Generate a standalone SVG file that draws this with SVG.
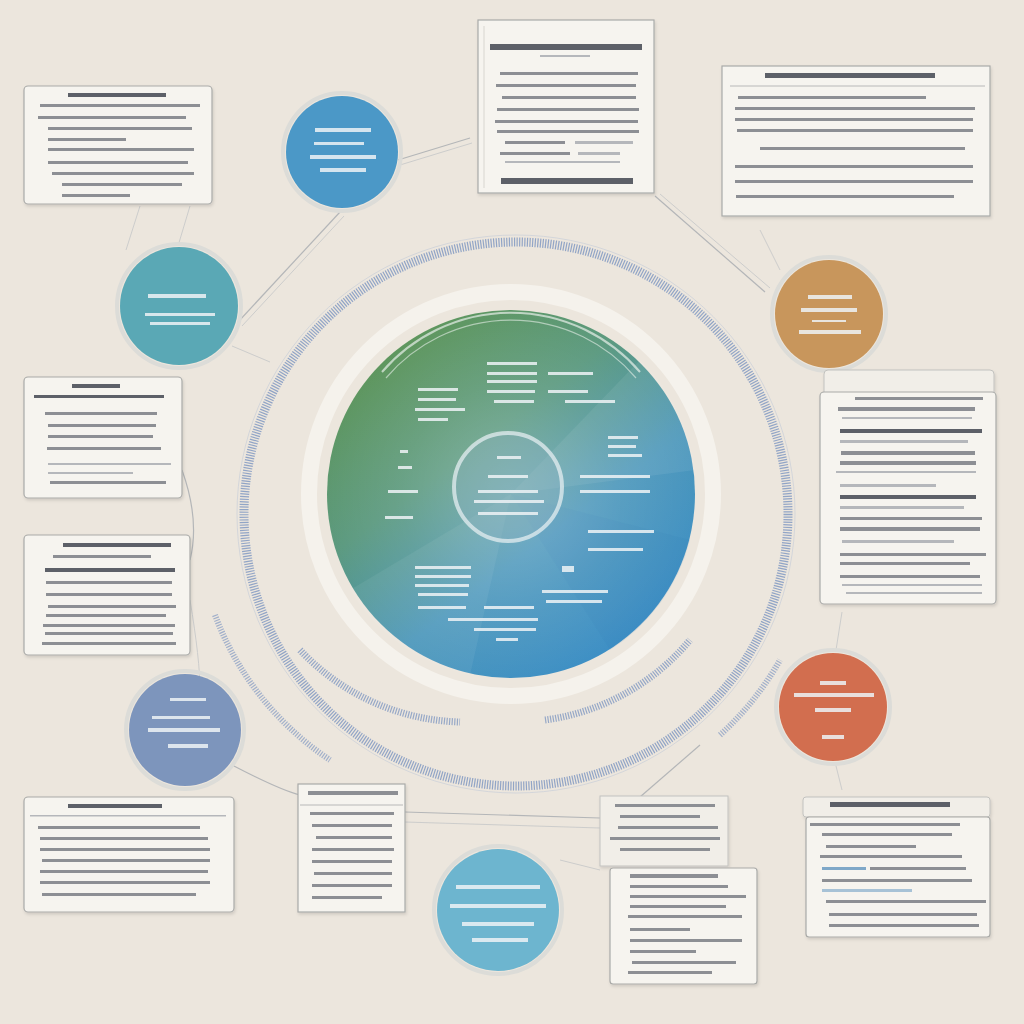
<svg xmlns="http://www.w3.org/2000/svg" width="1024" height="1024" viewBox="0 0 1024 1024">
<defs>
<style>
.card{fill:#f6f4ef;stroke:#a9aaa8;stroke-width:1.2}
.cardb{fill:#f1eee8;stroke:#c2c2bf;stroke-width:1}
.b{fill:#8d8f94}
.bd{fill:#5d6068}
.bl{fill:#b5b7bb}
.w{fill:#eef3f6;opacity:.85}
.conn{fill:none;stroke:#b4b6b8;stroke-width:1.2}
.conn2{fill:none;stroke:#c8c9ca;stroke-width:0.9}
.node-ring{fill:none;stroke:#dcdcd8;stroke-width:4}
.hatch{fill:none;stroke:#8199c2;stroke-dasharray:1.2 1.4}
</style>
<linearGradient id="disk" x1="0.2" y1="0.05" x2="0.85" y2="0.9">
<stop offset="0" stop-color="#5f965a"/>
<stop offset="0.35" stop-color="#5c9a80"/>
<stop offset="0.65" stop-color="#4c97bb"/>
<stop offset="1" stop-color="#3d8fc6"/>
</linearGradient>
<radialGradient id="glow" cx="0.5" cy="0.5" r="0.5">
<stop offset="0" stop-color="#ffffff" stop-opacity="0.25"/>
<stop offset="0.6" stop-color="#ffffff" stop-opacity="0.08"/>
<stop offset="1" stop-color="#ffffff" stop-opacity="0"/>
</radialGradient>
<filter id="sh" x="-10%" y="-10%" width="120%" height="120%">
<feDropShadow dx="1" dy="2" stdDeviation="1.5" flood-color="#000" flood-opacity="0.12"/>
</filter>
</defs>
<rect width="1024" height="1024" fill="#ece6dd"/>

<!-- rings -->
<g id="rings">
<circle cx="511" cy="494" r="202" fill="none" stroke="#f5f2ec" stroke-width="16"/>
<circle cx="516" cy="514" r="272" class="hatch" stroke-width="9" opacity="0.85"/>
<circle cx="516" cy="514" r="279" fill="none" stroke="#c9cfd9" stroke-width="1" opacity="0.7"/>
<path class="hatch" stroke-width="7" opacity="0.8" d="M 300 650 A 228 228 0 0 0 460 722"/>
<path class="hatch" stroke-width="7" opacity="0.8" d="M 545 720 A 228 228 0 0 0 690 640"/>
<path class="hatch" stroke-width="6" opacity="0.7" d="M 215 615 A 300 300 0 0 0 330 760"/>
<path class="hatch" stroke-width="6" opacity="0.7" d="M 720 735 A 300 300 0 0 0 780 660"/>
</g>

<!-- connectors -->
<g id="connectors">
<path class="conn" d="M 398 160 L 470 138"/>
<path class="conn2" d="M 400 165 L 472 143"/>
<path class="conn" d="M 238 322 L 340 212"/>
<path class="conn2" d="M 242 326 L 344 216"/>
<path class="conn" d="M 655 196 L 765 292"/>
<path class="conn2" d="M 660 194 L 770 288"/>
<path class="conn2" d="M 190 206 L 178 246"/>
<path class="conn2" d="M 140 206 L 126 250"/>
<path class="conn2" d="M 232 346 L 270 362"/>
<path class="conn" d="M 182 470 Q 200 520 190 560"/>
<path class="conn2" d="M 190 600 Q 200 660 200 690"/>
<path class="conn" d="M 232 765 Q 280 790 300 795"/>
<path class="conn" d="M 405 812 L 600 818"/>
<path class="conn2" d="M 405 822 L 600 828"/>
<path class="conn" d="M 640 797 L 700 745"/>
<path class="conn2" d="M 835 762 L 842 790"/>
<path class="conn2" d="M 842 612 L 836 650"/>
<path class="conn2" d="M 862 370 L 858 392"/>
<path class="conn2" d="M 560 860 L 600 870"/>
<path class="conn2" d="M 760 230 L 780 270"/>
</g>

<!-- central disk -->
<g id="center">
<circle cx="511" cy="494" r="184" fill="url(#disk)"/>
<path d="M 511 494 L 640 360 A 184 184 0 0 1 695 470 Z" fill="#ffffff" opacity="0.07"/>
<path d="M 511 494 L 470 675 A 184 184 0 0 1 350 590 Z" fill="#ffffff" opacity="0.06"/>
<path d="M 511 494 L 690 540 A 184 184 0 0 1 610 650 Z" fill="#2f7fb8" opacity="0.12"/>
<circle cx="511" cy="494" r="184" fill="url(#glow)"/>
<circle cx="508" cy="487" r="54" fill="#8fb4c2" fill-opacity="0.35" stroke="#e4eef0" stroke-width="4" stroke-opacity="0.75"/>
<path d="M 382 372 A 170 170 0 0 1 640 372" fill="none" stroke="#e8f0ea" stroke-width="2" opacity="0.7"/>
<path d="M 386 378 A 164 164 0 0 1 636 378" fill="none" stroke="#e8f0ea" stroke-width="1.2" opacity="0.6"/>
<g class="w">
<rect x="497" y="456" width="24" height="3"/>
<rect x="488" y="475" width="40" height="3"/>
<rect x="478" y="490" width="60" height="3"/>
<rect x="474" y="500" width="70" height="3"/>
<rect x="478" y="512" width="60" height="3"/>
<rect x="487" y="362" width="50" height="3"/>
<rect x="487" y="372" width="50" height="3"/>
<rect x="487" y="380" width="50" height="3"/>
<rect x="487" y="390" width="48" height="3"/>
<rect x="494" y="400" width="40" height="3"/>
<rect x="418" y="388" width="40" height="3"/>
<rect x="418" y="398" width="38" height="3"/>
<rect x="415" y="408" width="50" height="3"/>
<rect x="418" y="418" width="30" height="3"/>
<rect x="548" y="372" width="45" height="3"/>
<rect x="548" y="390" width="40" height="3"/>
<rect x="565" y="400" width="50" height="3"/>
<rect x="608" y="436" width="30" height="3"/>
<rect x="608" y="445" width="28" height="3"/>
<rect x="608" y="454" width="34" height="3"/>
<rect x="580" y="475" width="70" height="3"/>
<rect x="580" y="490" width="70" height="3"/>
<rect x="588" y="530" width="66" height="3"/>
<rect x="588" y="548" width="55" height="3"/>
<rect x="400" y="450" width="8" height="3"/>
<rect x="398" y="466" width="14" height="3"/>
<rect x="388" y="490" width="30" height="3"/>
<rect x="385" y="516" width="28" height="3"/>
<rect x="415" y="566" width="56" height="3"/>
<rect x="415" y="575" width="56" height="3"/>
<rect x="415" y="584" width="54" height="3"/>
<rect x="418" y="593" width="50" height="3"/>
<rect x="418" y="606" width="48" height="3"/>
<rect x="484" y="606" width="50" height="3"/>
<rect x="448" y="618" width="90" height="3"/>
<rect x="474" y="628" width="62" height="3"/>
<rect x="496" y="638" width="22" height="3"/>
<rect x="562" y="566" width="12" height="6"/>
<rect x="542" y="590" width="66" height="3"/>
<rect x="546" y="600" width="56" height="3"/>
</g>
</g>

<!-- circle nodes -->
<g id="node-blue-top">
<circle cx="342" cy="152" r="59" class="node-ring"/>
<circle cx="342" cy="152" r="56" fill="#4b98c7"/>
<g class="w"><rect x="315" y="128" width="56" height="4"/><rect x="314" y="142" width="50" height="3"/><rect x="310" y="155" width="66" height="4"/><rect x="320" y="168" width="46" height="4"/></g>
</g>
<g id="node-teal">
<circle cx="179" cy="306" r="62" class="node-ring"/>
<circle cx="179" cy="306" r="59" fill="#5aa8b5"/>
<g class="w"><rect x="148" y="294" width="58" height="4"/><rect x="145" y="313" width="70" height="3"/><rect x="150" y="322" width="60" height="3"/></g>
</g>
<g id="node-orange">
<circle cx="829" cy="314" r="57" class="node-ring"/>
<circle cx="829" cy="314" r="54" fill="#c8965c"/>
<g class="w"><rect x="808" y="295" width="44" height="4"/><rect x="801" y="308" width="56" height="4"/><rect x="812" y="320" width="34" height="2"/><rect x="799" y="330" width="62" height="4"/></g>
</g>
<g id="node-purple">
<circle cx="185" cy="730" r="59" class="node-ring"/>
<circle cx="185" cy="730" r="56" fill="#7d95bc"/>
<g class="w"><rect x="170" y="698" width="36" height="3"/><rect x="152" y="716" width="58" height="3"/><rect x="148" y="728" width="72" height="4"/><rect x="168" y="744" width="40" height="4"/></g>
</g>
<g id="node-red">
<circle cx="833" cy="707" r="57" class="node-ring"/>
<circle cx="833" cy="707" r="54" fill="#d26e4f"/>
<g class="w"><rect x="820" y="681" width="26" height="4"/><rect x="794" y="693" width="80" height="4"/><rect x="815" y="708" width="36" height="4"/><rect x="822" y="735" width="22" height="4"/></g>
</g>
<g id="node-lightblue">
<circle cx="498" cy="910" r="64" class="node-ring"/>
<circle cx="498" cy="910" r="61" fill="#6db5cf"/>
<g class="w"><rect x="456" y="885" width="84" height="4"/><rect x="450" y="904" width="96" height="4"/><rect x="462" y="922" width="72" height="4"/><rect x="472" y="938" width="56" height="4"/></g>
</g>

<!-- card nodes -->
<g id="card-top-center" filter="url(#sh)">
<rect x="478" y="20" width="176" height="173" class="card"/>
<line x1="484" y1="26" x2="484" y2="188" stroke="#d8d6d0"/>
<rect x="490" y="44" width="152" height="6" class="bd"/>
<rect x="540" y="55" width="50" height="2" class="bl"/>
<rect x="500" y="72" width="138" height="3" class="b"/>
<rect x="496" y="84" width="140" height="3" class="b"/>
<rect x="502" y="96" width="134" height="3" class="b"/>
<rect x="497" y="108" width="142" height="3" class="b"/>
<rect x="495" y="120" width="143" height="3" class="b"/>
<rect x="497" y="130" width="142" height="3" class="b"/>
<rect x="505" y="141" width="60" height="3" class="b"/><rect x="575" y="141" width="58" height="3" class="bl"/>
<rect x="500" y="152" width="70" height="3" class="b"/><rect x="578" y="152" width="42" height="3" class="bl"/>
<rect x="505" y="161" width="115" height="2" class="bl"/>
<rect x="501" y="178" width="132" height="6" class="bd"/>
</g>
<g id="card-top-right" filter="url(#sh)">
<rect x="722" y="66" width="268" height="150" class="card"/>
<rect x="765" y="73" width="170" height="5" class="bd"/>
<line x1="730" y1="86" x2="985" y2="86" stroke="#b8b8b8"/>
<rect x="738" y="96" width="188" height="3" class="b"/>
<rect x="735" y="107" width="240" height="3" class="b"/>
<rect x="735" y="118" width="238" height="3" class="b"/>
<rect x="737" y="129" width="236" height="3" class="b"/>
<rect x="760" y="147" width="205" height="3" class="b"/>
<rect x="735" y="165" width="238" height="3" class="b"/>
<rect x="735" y="180" width="238" height="3" class="b"/>
<rect x="736" y="195" width="218" height="3" class="b"/>
</g>
<g id="card-top-left" filter="url(#sh)">
<rect x="24" y="86" width="188" height="118" rx="4" class="card"/>
<rect x="68" y="93" width="98" height="4" class="bd"/>
<rect x="40" y="104" width="160" height="3" class="b"/>
<rect x="38" y="116" width="148" height="3" class="b"/>
<rect x="48" y="127" width="144" height="3" class="b"/>
<rect x="48" y="138" width="78" height="3" class="b"/>
<rect x="48" y="148" width="146" height="3" class="b"/>
<rect x="48" y="161" width="140" height="3" class="b"/>
<rect x="52" y="172" width="142" height="3" class="b"/>
<rect x="62" y="183" width="120" height="3" class="b"/>
<rect x="62" y="194" width="68" height="3" class="b"/>
</g>
<g id="card-left-mid" filter="url(#sh)">
<rect x="24" y="377" width="158" height="121" rx="4" class="card"/>
<rect x="72" y="384" width="48" height="4" class="bd"/>
<rect x="34" y="395" width="130" height="3" class="bd"/>
<rect x="45" y="412" width="112" height="3" class="b"/>
<rect x="48" y="424" width="108" height="3" class="b"/>
<rect x="48" y="435" width="105" height="3" class="b"/>
<rect x="47" y="447" width="114" height="3" class="b"/>
<rect x="48" y="463" width="123" height="2" class="bl"/>
<rect x="48" y="472" width="85" height="2" class="bl"/>
<rect x="50" y="481" width="116" height="3" class="b"/>
</g>
<g id="card-left-lower" filter="url(#sh)">
<rect x="24" y="535" width="166" height="120" rx="4" class="card"/>
<rect x="63" y="543" width="108" height="4" class="bd"/>
<rect x="53" y="555" width="98" height="3" class="b"/>
<rect x="45" y="568" width="130" height="4" class="bd"/>
<rect x="46" y="581" width="126" height="3" class="b"/>
<rect x="46" y="593" width="126" height="3" class="b"/>
<rect x="48" y="605" width="128" height="3" class="b"/>
<rect x="46" y="614" width="120" height="3" class="b"/>
<rect x="43" y="624" width="132" height="3" class="b"/>
<rect x="45" y="632" width="128" height="3" class="b"/>
<rect x="42" y="642" width="134" height="3" class="b"/>
</g>
<g id="card-right-mid" filter="url(#sh)">
<rect x="824" y="370" width="170" height="230" rx="4" class="cardb"/>
<rect x="820" y="392" width="176" height="212" rx="4" class="card"/>
<rect x="855" y="397" width="128" height="3" class="b"/>
<rect x="838" y="407" width="137" height="4" class="b"/>
<rect x="842" y="417" width="130" height="2" class="bl"/>
<rect x="840" y="429" width="142" height="4" class="bd"/>
<rect x="840" y="440" width="128" height="3" class="bl"/>
<rect x="841" y="451" width="134" height="4" class="b"/>
<rect x="840" y="461" width="136" height="4" class="b"/>
<rect x="836" y="471" width="140" height="2" class="bl"/>
<rect x="840" y="484" width="96" height="3" class="bl"/>
<rect x="840" y="495" width="136" height="4" class="bd"/>
<rect x="840" y="506" width="124" height="3" class="bl"/>
<rect x="840" y="517" width="142" height="3" class="b"/>
<rect x="840" y="527" width="140" height="4" class="b"/>
<rect x="842" y="540" width="112" height="3" class="bl"/>
<rect x="840" y="553" width="146" height="3" class="b"/>
<rect x="840" y="562" width="130" height="3" class="b"/>
<rect x="840" y="575" width="140" height="3" class="b"/>
<rect x="842" y="584" width="140" height="2" class="bl"/>
<rect x="846" y="592" width="136" height="2" class="bl"/>
</g>
<g id="card-bottom-left" filter="url(#sh)">
<rect x="24" y="797" width="210" height="115" rx="4" class="card"/>
<rect x="68" y="804" width="94" height="4" class="bd"/>
<rect x="30" y="815" width="196" height="1.5" class="bl"/>
<rect x="38" y="826" width="162" height="3" class="b"/>
<rect x="40" y="837" width="168" height="3" class="b"/>
<rect x="40" y="848" width="170" height="3" class="b"/>
<rect x="42" y="859" width="168" height="3" class="b"/>
<rect x="40" y="870" width="168" height="3" class="b"/>
<rect x="40" y="881" width="170" height="3" class="b"/>
<rect x="42" y="893" width="154" height="3" class="b"/>
</g>
<g id="card-bottom-center-left" filter="url(#sh)">
<rect x="298" y="784" width="107" height="128" class="card"/>
<rect x="308" y="791" width="90" height="4" class="b"/>
<line x1="300" y1="805" x2="403" y2="805" stroke="#b8b8b8"/>
<rect x="310" y="812" width="84" height="3" class="b"/>
<rect x="312" y="824" width="80" height="3" class="b"/>
<rect x="316" y="836" width="76" height="3" class="b"/>
<rect x="312" y="848" width="82" height="3" class="b"/>
<rect x="312" y="860" width="80" height="3" class="b"/>
<rect x="314" y="872" width="78" height="3" class="b"/>
<rect x="312" y="884" width="80" height="3" class="b"/>
<rect x="312" y="896" width="70" height="3" class="b"/>
</g>
<g id="card-bottom-center-right" filter="url(#sh)">
<rect x="600" y="796" width="128" height="70" class="cardb"/>
<rect x="615" y="804" width="100" height="3" class="b"/>
<rect x="620" y="815" width="80" height="3" class="b"/>
<rect x="618" y="826" width="100" height="3" class="b"/>
<rect x="610" y="837" width="110" height="3" class="b"/>
<rect x="620" y="848" width="90" height="3" class="b"/>
<rect x="610" y="868" width="147" height="116" rx="3" class="card"/>
<rect x="630" y="874" width="88" height="4" class="b"/>
<rect x="630" y="885" width="98" height="3" class="b"/>
<rect x="630" y="895" width="116" height="3" class="b"/>
<rect x="630" y="905" width="96" height="3" class="b"/>
<rect x="628" y="915" width="114" height="3" class="b"/>
<rect x="630" y="928" width="60" height="3" class="b"/>
<rect x="630" y="939" width="112" height="3" class="b"/>
<rect x="630" y="950" width="66" height="3" class="b"/>
<rect x="632" y="961" width="104" height="3" class="b"/>
<rect x="628" y="971" width="84" height="3" class="b"/>
</g>
<g id="card-bottom-right" filter="url(#sh)">
<rect x="803" y="797" width="187" height="20" rx="3" class="cardb"/>
<rect x="830" y="802" width="120" height="5" class="bd"/>
<rect x="806" y="817" width="184" height="120" rx="3" class="card"/>
<rect x="810" y="823" width="150" height="3" class="b"/>
<rect x="822" y="833" width="130" height="3" class="b"/>
<rect x="826" y="845" width="90" height="3" class="b"/>
<rect x="820" y="855" width="142" height="3" class="b"/>
<rect x="822" y="867" width="44" height="3" fill="#7fa8c8"/><rect x="870" y="867" width="96" height="3" class="b"/>
<rect x="822" y="879" width="150" height="3" class="b"/>
<rect x="822" y="889" width="90" height="3" fill="#a7c2d6"/>
<rect x="826" y="900" width="160" height="3" class="b"/>
<rect x="829" y="913" width="148" height="3" class="b"/>
<rect x="829" y="924" width="150" height="3" class="b"/>
</g>
</svg>
